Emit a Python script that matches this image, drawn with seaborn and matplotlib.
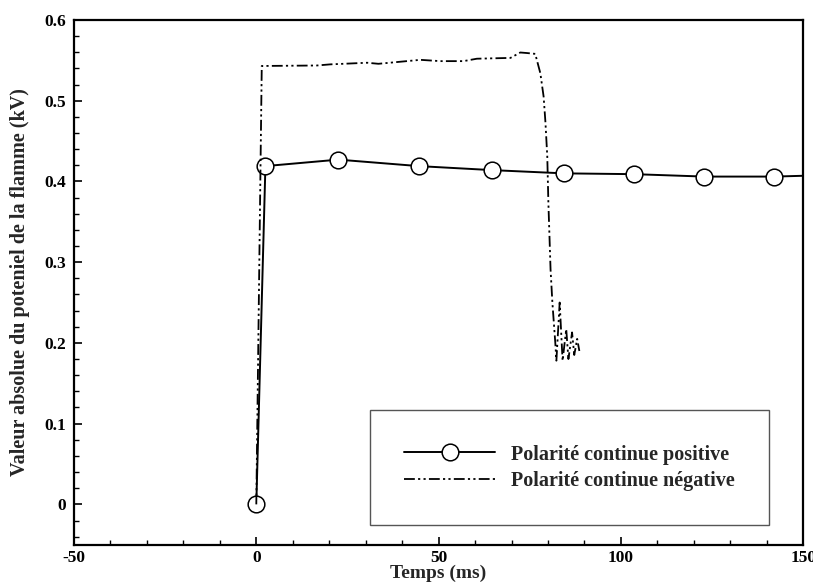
import matplotlib
matplotlib.use("Agg")
import matplotlib.pyplot as plt
from matplotlib.ticker import MultipleLocator
import seaborn as sns

# polarité continue positive (markers on all but the last point)
t_pos = [0, 2.5, 22.5, 44.5, 64.7, 84.3, 103.6, 122.9, 142.0, 150]
v_pos = [0.0, 0.419, 0.427, 0.419, 0.414, 0.410, 0.409, 0.406, 0.406, 0.407]

# polarité continue négative
t_neg = [0, 1.5, 16.6, 20.3, 30.4, 33.5, 45.0, 50.5, 56.8, 60.5, 69.7, 72.4,
         74.3, 76.5, 77.9, 78.8, 79.3, 79.8, 80.1, 80.7, 81.2, 82.0, 82.3,
         83.2, 84.0, 85.0, 85.6, 86.6, 87.2, 88.0, 88.6]
v_neg = [0.0, 0.543, 0.5436, 0.545, 0.547, 0.5457, 0.5506, 0.549, 0.549, 0.552,
         0.553, 0.5597, 0.559, 0.558, 0.534, 0.505, 0.473, 0.431, 0.374, 0.291,
         0.25, 0.20, 0.178, 0.25, 0.178, 0.217, 0.18, 0.213, 0.185, 0.205, 0.19]

sns.set_style("ticks")
plt.rcParams['font.family'] = ['Liberation Serif', 'DejaVu Serif']
plt.rcParams['font.weight'] = 'bold'
plt.rcParams['axes.labelweight'] = 'bold'

fig, ax = plt.subplots(figsize=(8.13, 5.87), dpi=100)
fig.subplots_adjust(left=0.091, right=0.988, top=0.966, bottom=0.072)

sns.lineplot(x=t_pos, y=v_pos, ax=ax, color='black', linewidth=1.4, marker='o',
             markersize=12, markerfacecolor='white', markeredgecolor='black',
             markeredgewidth=1.1, estimator=None, sort=False,
             markevery=list(range(len(t_pos) - 1)),
             label='Polarité continue positive')
sns.lineplot(x=t_neg, y=v_neg, ax=ax, color='black', linewidth=1.3,
             dashes=False, estimator=None, sort=False,
             label='Polarité continue négative')
ax.lines[1].set_dashes([6, 1.8, 1.2, 1.8, 1.2, 1.8])

ax.set_xlim(-50, 150)
ax.set_ylim(-0.05, 0.6)
ax.xaxis.set_minor_locator(MultipleLocator(10))
ax.yaxis.set_minor_locator(MultipleLocator(0.02))
ax.set_yticks([0, 0.1, 0.2, 0.3, 0.4, 0.5, 0.6])
ax.set_yticklabels(['0', '0.1', '0.2', '0.3', '0.4', '0.5', '0.6'])
ax.set_xticks([-50, 0, 50, 100, 150])
ax.set_xticklabels(['-50', '0', '50', '100', '150'])

ax.tick_params(which='major', direction='in', length=6, width=1.2,
               labelsize=12.5, pad=6, color='black', labelcolor='black')
ax.tick_params(axis='x', which='major', pad=4)
ax.tick_params(which='minor', direction='in', length=3.5, width=1.0, color='black')
for s in ax.spines.values():
    s.set_linewidth(1.6)
    s.set_color('black')

ax.set_xlabel('Temps (ms)', fontsize=14, labelpad=-1)
ax.set_ylabel('Valeur absolue du poteniel de la flamme (kV)', fontsize=14.5, labelpad=10)

leg = ax.legend(loc='lower right', bbox_to_anchor=(0.953, 0.038), fontsize=14.5,
                frameon=True, fancybox=False, borderpad=1.7, handlelength=4.5,
                handletextpad=0.8, labelspacing=0.3, borderaxespad=0)
leg.get_frame().set_edgecolor('#555555')
leg.get_frame().set_linewidth(1.0)
leg.get_frame().set_alpha(1)

fig.savefig('out.png', dpi=100)
